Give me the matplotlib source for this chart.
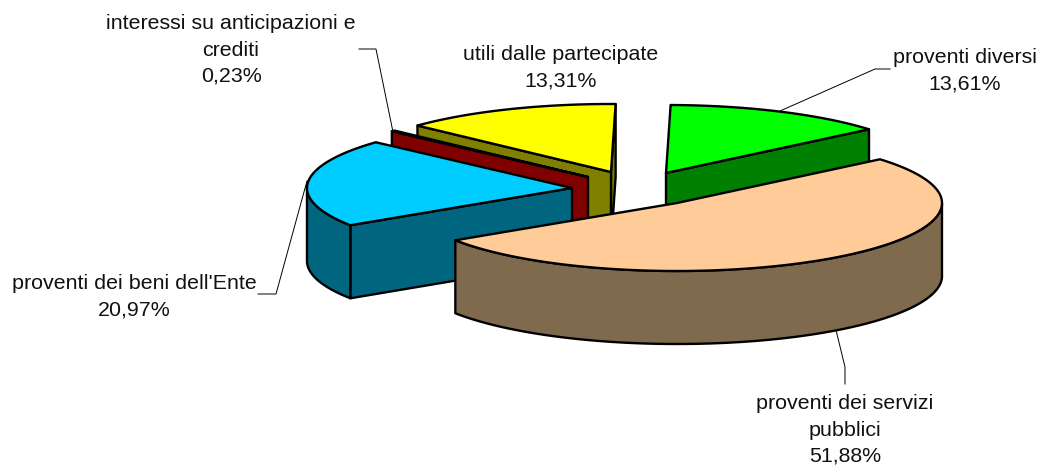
import numpy as np
import matplotlib
matplotlib.use("Agg")
import matplotlib.pyplot as plt
from matplotlib.patches import Polygon

# --- data (clockwise from the top of the pie)
categories = ["proventi diversi", "proventi dei servizi\npubblici",
              "proventi dei beni dell'Ente", "interessi su anticipazioni e\ncrediti",
              "utili dalle partecipate"]
values = [13.61, 51.88, 20.97, 0.23, 13.31]

# --- style
top_colors = ["#00FF00", "#FFCC99", "#00CCFF", "#800000", "#FFFF00"]
side_colors = ["#008000", "#806A4D", "#006680", "#800000", "#808000"]

# --- layout (figure pixels)
W, H = 1038, 466
RX, RY, DEPTH = 265, 68, 73
START_DEG = 89
apexes = [(666, 173), (677, 203), (572, 188), (588, 177), (611, 172)]
paint_rank = [0, 4, 3, 2, 1]  # back slices are painted first
label_pos = [(965, 71), (845, 430), (134, 297), (231, 50), (561, 68)]
leaders = [
    [(780, 111), (875, 69), (890, 69)],
    [(836, 330), (845, 367), (845, 384)],
    [(307, 181), (276, 294), (258, 294)],
    [(393, 132), (376, 49), (359, 49)],
]
EDGE = 1.7

plt.rcParams["font.family"] = ["Liberation Sans", "DejaVu Sans"]
fig = plt.figure(figsize=(W / 100, H / 100), dpi=100)
ax = fig.add_axes([0, 0, 1, 1])
ax.set_xlim(0, W)
ax.set_ylim(H, 0)
ax.axis("off")


def pt(apex, deg):
    t = np.radians(deg)
    return np.column_stack([apex[0] + RX * np.cos(t), apex[1] - RY * np.sin(t)])


def poly(points, color, z):
    ax.add_patch(Polygon(points, closed=True, facecolor=color, edgecolor="black",
                         linewidth=EDGE, joinstyle="round", zorder=z))


def cut_face(apex, deg, color, z):
    p = pt(apex, np.array([deg]))[0]
    a = np.array(apex, float)
    d = np.array([0, DEPTH])
    poly([a, p, p + d, a + d], color, z)


angle = START_DEG
for i, v in enumerate(values):
    sweep = v / sum(values) * 360
    t0, t1 = angle, angle - sweep
    angle = t1
    apex = apexes[i]
    base = 10 * (paint_rank[i] + 1)
    if np.cos(np.radians(t1)) > 0:
        cut_face(apex, t1, side_colors[i], base)
    if np.cos(np.radians(t0)) < 0:
        cut_face(apex, t0, side_colors[i], base + 1)
    # outer wall: only the front half of the rim faces the viewer
    arc = np.linspace(t0, t1, 240)
    front = arc[np.sin(np.radians(arc)) <= 0]
    if front.size > 1:
        rim = pt(apex, front)
        poly(np.vstack([rim, rim[::-1] + [0, DEPTH]]), side_colors[i], base + 2)
    poly(np.vstack([[apex], pt(apex, arc)]), top_colors[i], base + 3)

for path in leaders:
    xs, ys = zip(*path)
    ax.plot(xs, ys, color="black", lw=0.7, zorder=100, solid_joinstyle="miter")

for name, v, (x, y) in zip(categories, values, label_pos):
    txt = f"{name}\n{v:.2f}%".replace(".", ",")
    ax.text(x, y, txt, ha="center", va="center", ma="center", fontsize=15.4,
            linespacing=1.5, color="#111111", zorder=110)

fig.savefig("out.png", dpi=100, facecolor="white")
